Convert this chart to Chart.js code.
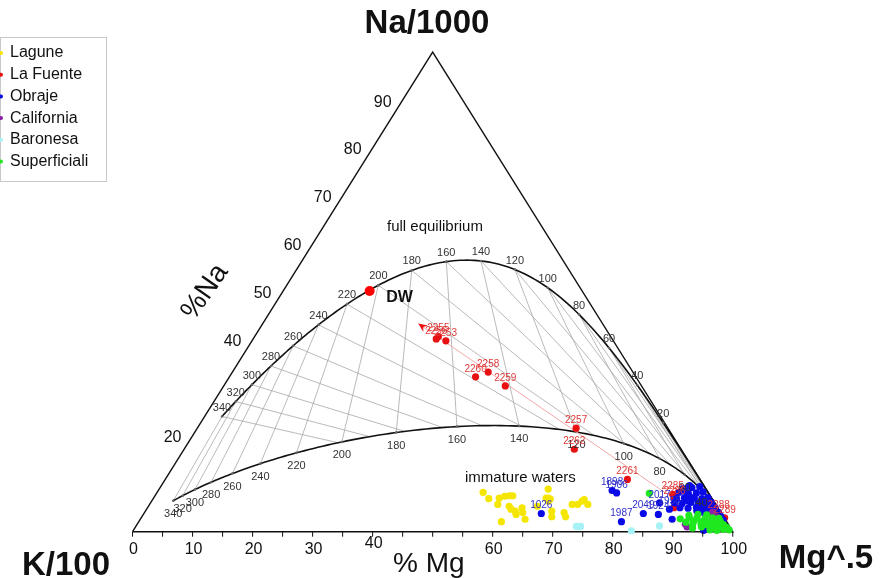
<!DOCTYPE html>
<html>
<head>
<meta charset="utf-8">
<script src="https://cdn.jsdelivr.net/npm/chart.js@4.4.0/dist/chart.umd.min.js"></script>
<style>
  html, body { margin: 0; padding: 0; background: #fff; }
  #wrap { width: 893px; height: 578px; }
</style>
</head>
<body>
<div id="wrap"><canvas id="myChart" width="893" height="578"></canvas></div>
<script>
// samples as [%Na, %Mg] on the Na/1000 - K/100 - Mg^.5 triangle (K is the rest)
const lagune = [
  [8.2, 54.3], [6.9, 55.9], [5.7, 58.0], [7.0, 57.6], [7.4, 58.3], [7.5, 59.0], [7.5, 59.6],
  [5.3, 60.1], [4.7, 60.7], [3.6, 62.1], [4.3, 61.6], [5.0, 62.4], [4.0, 63.0], [2.6, 64.1],
  [2.1, 60.4], [5.3, 64.8], [8.9, 64.8], [7.0, 65.4], [7.0, 65.8], [6.8, 66.2], [6.4, 66.1],
  [4.3, 67.7], [3.1, 68.3], [4.0, 69.9], [3.1, 70.6], [5.7, 70.4], [5.7, 71.3], [6.4, 71.7],
  [6.7, 71.9], [5.7, 73.0]
];
const laFuente = [
  [40.2, 30.5], [40.7, 30.6], [39.8, 32.3], [33.3, 42.6], [32.3, 41.0], [30.4, 46.9],
  [21.6, 63.1], [17.2, 65.0], [10.9, 77.0], [7.8, 86.1], [6.8, 86.9], [5.0, 87.7],
  [3.9, 95.7], [2.9, 97.2]
];
const laFuenteLabels = ['2256', '2255', '2253', '2258', '2260', '2259', '2257', '2262', '2261',
  '2285', '2286', '', '2288', '2289'];
const obraje = [
  [8.6, 75.6], [8.1, 76.6], [3.8, 66.2], [2.1, 80.4], [3.8, 83.2], [3.6, 85.8], [6.0, 84.8],
  [4.7, 87.1], [2.6, 88.6], [0.3, 95.0],
  [9.4, 89.8], [9.2, 88.6], [9.0, 87.2], [9.6, 88.0],
  [8.3, 90.9], [8.1, 89.9], [8.0, 88.6], [8.2, 86.9], [8.5, 87.8],
  [7.1, 92.3], [6.9, 91.4], [7.0, 90.1], [7.1, 88.4], [6.9, 87.2], [7.3, 89.2],
  [6.1, 93.4], [5.9, 92.5], [6.0, 91.3], [6.1, 90.0], [5.9, 88.6], [6.0, 87.3], [6.4, 89.3],
  [5.1, 94.5], [4.9, 93.8], [5.0, 92.7], [5.1, 91.4], [4.9, 90.1], [5.0, 88.7], [5.4, 92.1],
  [4.1, 95.5], [3.9, 95.0], [4.0, 94.0], [4.1, 92.9], [4.4, 91.8],
  [3.2, 96.4], [3.3, 95.7], [3.0, 95.1],
  [2.4, 97.2], [2.5, 96.5]
];
const obrajeLabels = ['1898', '1906', '1026', '1987', '2049', '1924', '2017', '1958'];
const california = [[1.6, 91.3], [1.0, 91.9], [3.5, 94.5], [4.1, 94.6], [3.1, 95.8]];
const baronesa = [[1.1, 73.4], [1.1, 74.1], [0.2, 83.0], [1.2, 87.2]];
const superficiali = [
  [8.0, 82.1], [2.7, 89.9],
  [3.5, 93.9], [3.6, 92.4], [3.4, 91.0],
  [2.8, 96.3], [2.9, 95.2], [2.7, 94.0], [2.8, 92.6], [2.9, 91.3],
  [2.1, 96.9], [2.2, 95.9], [2.0, 94.9], [2.1, 93.8], [2.2, 92.4], [2.0, 91.2],
  [1.5, 97.7], [1.6, 96.8], [1.4, 96.0], [1.5, 95.0], [1.6, 93.9], [1.4, 92.6],
  [0.9, 98.5], [1.0, 97.7], [0.8, 96.8], [0.9, 95.8], [1.0, 94.3], [0.8, 92.9],
  [0.4, 99.2], [0.5, 98.2], [0.3, 97.2], [0.4, 96.0]
];
const dwPoint = [50.2, 14.4];
const mixLine = [[6.8, 86.9], [43.4, 25.9]];

const seriesNames = ['Lagune', 'La Fuente', 'Obraje', 'California', 'Baronesa', 'Superficiali'];
const seriesColors = ['#f4e600', '#e81010', '#0a0ae6', '#8a1fa8', '#a6f2f6', '#1fe81f'];

const mgTicks = [0, 10, 20, 30, 40, 60, 70, 80, 90, 100];
const naTicks = [20, 40, 50, 60, 70, 80, 90];
const gridTemps = [20, 40, 60, 80, 100, 120, 140, 160, 180, 200, 220, 240, 260, 280, 300, 320, 340];
const lowerLabelTemps = [40, 60, 80, 100, 120, 140, 160, 180, 200, 220, 240, 260, 280, 300, 320, 340];

// Giggenbach (1988) Na-K and K-Mg geothermometers, for the reference grid only
function naK(t) { return Math.pow(10, 1390 / (t + 273.15) - 1.75); }
function k2mg(t) { return Math.pow(10, 14.0 - 4410 / (t + 273.15)); }
function toPct(a, b, c) {
  const s = a + b + c;
  return [100 * a / s, 100 * c / s];
}
// K = 1 mg/kg, only the ratios matter
function fullEq(t) { return toPct(naK(t) / 1000, 0.01, 1 / Math.sqrt(k2mg(t))); }
function partialByKMg(t) {
  const lk = Math.log10(k2mg(t));
  return toPct(Math.pow(10, 2 - 0.315 * lk) / 1000, 0.01, 1 / Math.sqrt(Math.pow(10, lk)));
}
function partialByNaK(t) {
  const r = naK(t);
  const lk = (2 - Math.log10(r)) / 0.315;
  return toPct(r / 1000, 0.01, 1 / Math.sqrt(Math.pow(10, lk)));
}

function tern(p) { return { x: p[1] + p[0] / 2, y: p[0] }; }

const curveT = [];
for (let t = -40; t <= 340; t += 2) curveT.push(t);

function lineSet(pts, color, width, order) {
  return {
    data: pts.map(tern), showLine: true, borderColor: color, borderWidth: width,
    pointRadius: 0, fill: false, order: order
  };
}
function pointSet(name, pts, color, order, radius) {
  return {
    label: name, data: pts.map(tern), showLine: false, backgroundColor: color,
    borderWidth: 0, pointRadius: radius || 3.6, order: order
  };
}

const datasets = [];
gridTemps.forEach(t => {
  datasets.push(lineSet([fullEq(t), partialByKMg(t)], '#a8a8a8', 0.8, 20));
  datasets.push(lineSet([fullEq(t), partialByNaK(t)], '#a8a8a8', 0.8, 20));
});
datasets.push(lineSet(curveT.map(fullEq), '#111', 1.6, 15));
datasets.push(lineSet(curveT.map(partialByKMg), '#111', 1.6, 15));
datasets.push(lineSet([[0, 0], [0, 100], [100, 0], [0, 0]], '#111', 1.4, 14));
datasets.push({
  data: gridTemps.map(t => tern(fullEq(t))).concat(gridTemps.map(t => tern(partialByKMg(t)))),
  showLine: false, pointRadius: 1.3, backgroundColor: '#666', borderWidth: 0, order: 13
});
datasets.push(lineSet(mixLine, '#f2a8a8', 1, 12));
datasets.push(pointSet('Baronesa', baronesa, seriesColors[4], 7));
datasets.push(pointSet('Lagune', lagune, seriesColors[0], 6));
datasets.push(pointSet('La Fuente', laFuente, seriesColors[1], 5));
datasets.push(pointSet('Obraje', obraje, seriesColors[2], 4));
datasets.push(pointSet('California', california, seriesColors[3], 3));
datasets.push(pointSet('Superficiali', superficiali, seriesColors[5], 2));
datasets.push(pointSet('DW', [dwPoint], '#ff0000', 1, 5));

const decor = {
  id: 'decor',
  afterDatasetsDraw(chart) {
    const ctx = chart.ctx, xs = chart.scales.x, ys = chart.scales.y;
    const px = p => [xs.getPixelForValue(p[1] + p[0] / 2), ys.getPixelForValue(p[0])];
    ctx.save();

    // arrowhead at the end of the mixing line
    const [ax, ay] = px(mixLine[1]);
    const [bx, by] = px(mixLine[0]);
    const ang = Math.atan2(ay - by, ax - bx);
    ctx.save();
    ctx.translate(ax, ay);
    ctx.rotate(ang);
    ctx.fillStyle = '#e81010';
    ctx.beginPath();
    ctx.moveTo(0, 0);
    ctx.lineTo(-9, -4);
    ctx.lineTo(-6, 0);
    ctx.lineTo(-9, 4);
    ctx.closePath();
    ctx.fill();
    ctx.restore();

    // % Mg axis ticks
    ctx.strokeStyle = '#111';
    ctx.lineWidth = 1;
    for (let v = 0; v <= 100; v += 5) {
      const [x, y] = px([0, v]);
      ctx.beginPath(); ctx.moveTo(x, y); ctx.lineTo(x, y + 5); ctx.stroke();
    }
    ctx.fillStyle = '#111';
    ctx.textAlign = 'center';
    ctx.textBaseline = 'middle';
    ctx.font = '16px Arial';
    mgTicks.forEach(v => {
      const [x, y] = px([0, v]);
      ctx.fillText(String(v), x + 1, y + (v === 40 ? 12 : 18));
    });
    naTicks.forEach(v => {
      const [x, y] = px([v, 0]);
      ctx.fillText(String(v), x - 20, y + 2);
    });

    // temperature labels on the two curves
    ctx.font = '11px Arial';
    ctx.fillStyle = '#333';
    gridTemps.forEach(t => {
      const [x, y] = px(fullEq(t));
      ctx.fillText(String(t), x, y - 9);
    });
    lowerLabelTemps.forEach(t => {
      const [x, y] = px(partialByKMg(t));
      ctx.fillText(String(t), x, y + 13);
    });

    // sample labels
    ctx.font = '10px Arial';
    ctx.fillStyle = '#e03a3a';
    laFuente.forEach((p, i) => {
      if (!laFuenteLabels[i]) return;
      const [x, y] = px(p);
      ctx.fillText(laFuenteLabels[i], x, y - 8);
    });
    ctx.fillStyle = '#2f2fc8';
    obraje.forEach((p, i) => {
      if (!obrajeLabels[i]) return;
      const [x, y] = px(p);
      ctx.fillText(obrajeLabels[i], x, y - 8);
    });

    ctx.fillStyle = '#111';
    ctx.font = 'bold 16px Arial';
    const [dx, dy] = px(dwPoint);
    ctx.fillText('DW', dx + 30, dy + 7);

    ctx.font = '15px Arial';
    ctx.textAlign = 'left';
    ctx.fillText('full equilibrium', 387, 227);
    ctx.fillText('immature waters', 465, 478);

    // vertex and axis titles
    ctx.textBaseline = 'alphabetic';
    ctx.textAlign = 'center';
    ctx.font = 'bold 33px Arial';
    ctx.fillText('Na/1000', 427, 33);
    ctx.fillText('K/100', 66, 575);
    ctx.fillText('Mg^.5', 826, 568);
    ctx.font = '28px Arial';
    ctx.textAlign = 'left';
    ctx.fillText('% Mg', 393, 572);
    ctx.save();
    ctx.translate(205, 292);
    ctx.rotate(-55 * Math.PI / 180);
    ctx.textAlign = 'center';
    ctx.textBaseline = 'middle';
    ctx.fillText('%Na', 0, 0);
    ctx.restore();

    // legend box
    ctx.strokeStyle = '#c8c8c8';
    ctx.strokeRect(0.5, 37.5, 106, 144);
    ctx.font = '16px Arial';
    ctx.textBaseline = 'middle';
    seriesNames.forEach((name, i) => {
      const y = 53 + i * 21.7;
      ctx.fillStyle = seriesColors[i];
      ctx.beginPath(); ctx.arc(1, y, 2, 0, Math.PI * 2); ctx.fill();
      ctx.fillStyle = '#111';
      ctx.fillText(name, 10, y);
    });
    ctx.restore();
  }
};

new Chart(document.getElementById('myChart').getContext('2d'), {
  type: 'scatter',
  data: { datasets: datasets },
  options: {
    responsive: false,
    animation: false,
    layout: { padding: 0 },
    plugins: {
      legend: { display: false },
      tooltip: { enabled: false },
      title: { display: false }
    },
    scales: {
      x: { type: 'linear', display: false, min: -129 / 6.07, max: 764 / 6.07 },
      y: { type: 'linear', display: false, min: -42 / 4.88, max: 536 / 4.88 }
    }
  },
  plugins: [decor]
});
</script>
</body>
</html>
